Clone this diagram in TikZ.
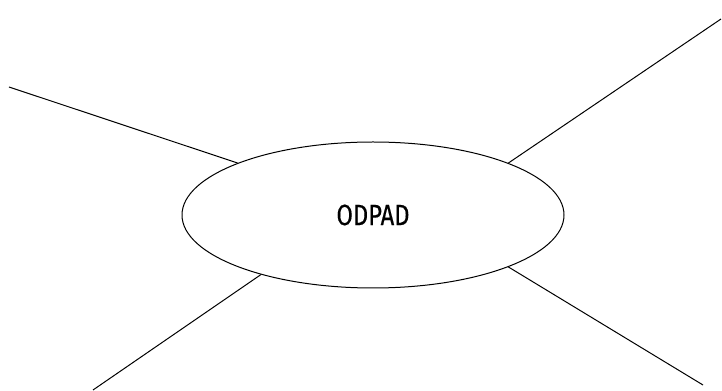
\documentclass[tikz,border=0pt]{standalone}
\usepackage{fontspec}
\usepackage{tikz}
\usetikzlibrary{shapes.geometric}
\newfontfamily\policeodpad[FakeStretch=0.81,FakeBold=0.4]{Fira Sans}

\begin{document}
\begin{tikzpicture}[x=0.75pt, y=-0.75pt, line width=0.75pt,
                    centre/.style={ellipse, draw, minimum width=286.5pt, minimum height=109.5pt, inner sep=0pt,
                                   font=\policeodpad\fontsize{22}{26}\selectfont}]

                        \useasboundingbox (0,0) rectangle (722,391);

                        % Définition du noeud central
                        \node[centre] (odpad) at (373,215) {ODPAD};

                        % Définition des extrémités libres
                        \coordinate (hg) at (9,87);
                        \coordinate (hd) at (721,19);
                        \coordinate (bg) at (93,390);
                        \coordinate (bd) at (703,385);

                        % Définition des branches
                        \draw (hg) -- (odpad.159);
                        \draw (hd) -- (odpad.21.6);
                        \draw (bg) -- (odpad.208.8);
                        \draw (bd) -- (odpad.-21.4);

                    \end{tikzpicture}
\end{document}
